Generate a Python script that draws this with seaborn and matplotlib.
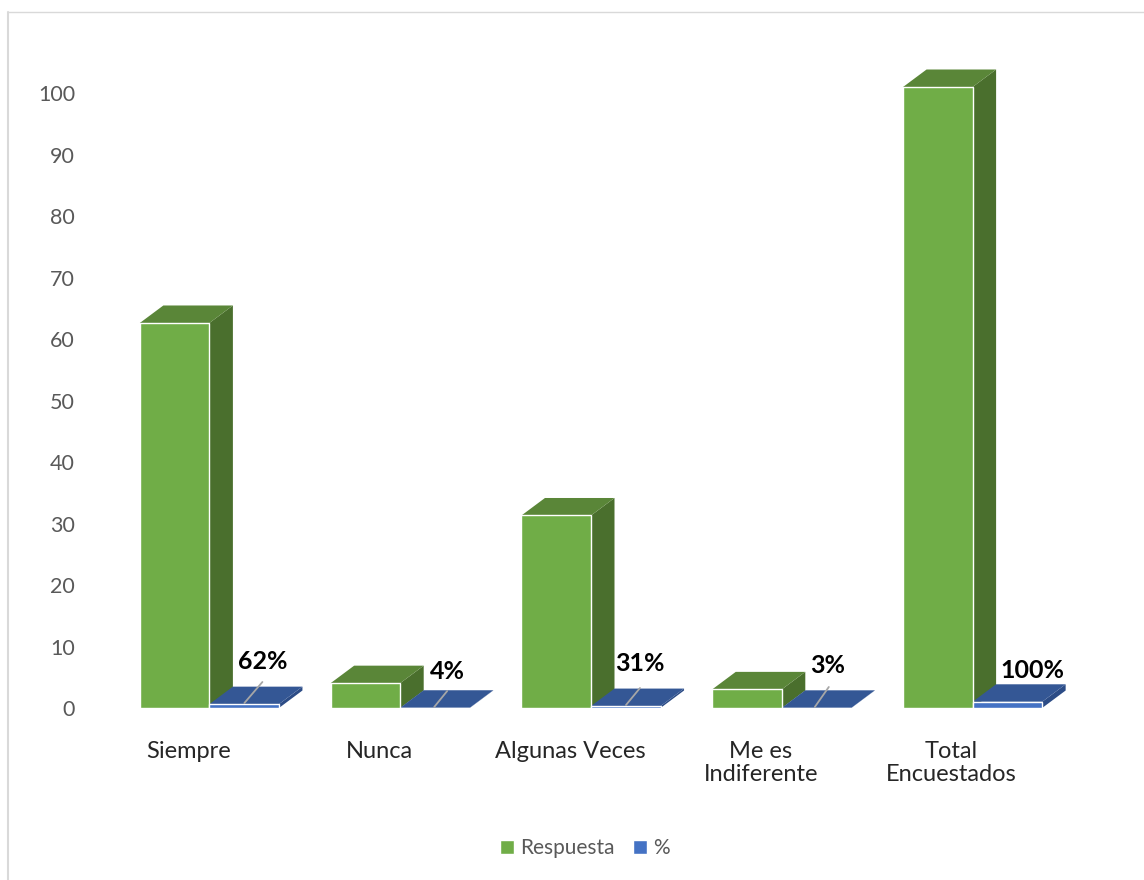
import matplotlib
matplotlib.use("Agg")
import matplotlib.pyplot as plt
from matplotlib.lines import Line2D
from matplotlib.patches import Polygon
import pandas as pd
import seaborn as sns

categories = ["Siempre", "Nunca", "Algunas Veces", "Me es\nIndiferente", "Total\nEncuestados"]
respuesta = [62, 4, 31, 3, 100]
porcentaje = [0.62, 0.04, 0.31, 0.03, 1.0]
y_ticks = list(range(0, 101, 10))

W, H = 1144, 880
sns.set_theme(style="white")
plt.rcParams["font.family"] = ["Lato", "DejaVu Sans"]

df = pd.DataFrame({
    "cat": categories * 2,
    "val": respuesta + porcentaje,
    "serie": ["Respuesta"] * 5 + ["%"] * 5,
})

fig = plt.figure(figsize=(W / 100, H / 100), dpi=100, facecolor="white")
L, R, T, B = 114, 1068, 60, 708
ax = fig.add_axes([L / W, 1 - B / H, (R - L) / W, (B - T) / H])
COL = {"Respuesta": "#70AD47", "%": "#4472C4"}
sns.barplot(data=df, x="cat", y="val", hue="serie", palette=COL, width=0.729, gap=0,
            saturation=1, ax=ax, legend=True, zorder=3)
ax.set_xlim(-0.5, 4.5)
ax.set_ylim(0, (B - T) / 6.21)
ax.set_xlabel("")
ax.set_ylabel("")
ax.set_yticks([])
for s in ax.spines.values():
    s.set_visible(False)
ax.patch.set_alpha(0)

fig.canvas.draw()
px_x = (R - L) / 5.0
px_y = 6.21
dx, dy = 23.5 / px_x, 17.5 / px_y


def box3d(bar, side, top):
    x0, x1 = bar.get_x(), bar.get_x() + bar.get_width()
    h = bar.get_height()
    ax.add_patch(Polygon([(x1, 0), (x1 + dx, dy), (x1 + dx, h + dy), (x1, h)],
                         closed=True, fc=side, ec="none", zorder=2, clip_on=False))
    ax.add_patch(Polygon([(x0, h), (x0 + dx, h + dy), (x1 + dx, h + dy), (x1, h)],
                         closed=True, fc=top, ec="none", zorder=2, clip_on=False))


for b in ax.containers[0]:
    box3d(b, "#4A6F2D", "#5A8638")
for b in ax.containers[1]:
    box3d(b, "#2C4C86", "#345795")

# value labels and leader lines, offsets in pixels from the blue bar's front-left corner
label_off = [(53, 47), (47, 37), (49, 45), (46, 43), (60, 38)]
leaders = [((35, 5), (53, 26)), ((34, 1), (47, 17)), ((35, 3), (49, 20)), ((33, 1), (47, 21)), None]
for b, p, off, ld in zip(ax.containers[1], porcentaje, label_off, leaders):
    xy = (b.get_x(), 0)
    ax.annotate(f"{p:.0%}", xy=xy, xytext=off, textcoords="offset pixels",
                ha="center", va="center", fontsize=18, fontweight="bold",
                color="black", zorder=6, annotation_clip=False)
    if ld:
        ax.annotate("", xy=xy, xycoords="data", annotation_clip=False)
        x_a = b.get_x() + ld[0][0] / px_x
        y_a = ld[0][1] / px_y
        x_b = b.get_x() + ld[1][0] / px_x
        y_b = ld[1][1] / px_y
        ax.plot([x_a, x_b], [y_a, y_b], color="#A6A6A6", lw=1.3, zorder=5, clip_on=False)
ax.set_xlim(-0.5, 4.5)
ax.set_ylim(0, (B - T) / 6.21)

# category labels
ax.set_xticks(range(5))
ax.set_xticklabels(categories, fontsize=17, color="#262626", linespacing=1.1)
ax.tick_params(axis="x", length=0, pad=24)
from matplotlib.transforms import ScaledTranslation
shift = ScaledTranslation(-21 / 100, 0, fig.dpi_scale_trans)
for lab in ax.get_xticklabels():
    lab.set_transform(lab.get_transform() + shift)

# value axis
ax2 = ax.twinx()
ax2.set_ylim((708 - 721) / -6.27, (721 - T) / 6.27)
ax2.yaxis.tick_left()
ax2.set_yticks(y_ticks)
ax2.tick_params(axis="y", length=0, pad=28, labelsize=15.5, labelcolor="#595959")
for s in ax2.spines.values():
    s.set_visible(False)
ax2.patch.set_alpha(0)

# legend
h, l = ax.get_legend_handles_labels()
ax.get_legend().remove()
fig.legend(h, l, loc="center", bbox_to_anchor=(585 / W, 1 - 848 / H), ncol=2, frameon=False,
           fontsize=15, handlelength=0.67, handleheight=0.67, handletextpad=0.3,
           columnspacing=0.85, labelcolor="#595959", borderpad=0)

# frame of the chart area
fig.add_artist(Line2D([8 / W, 8 / W], [0, 1 - 12 / H], color="#D9D9D9", lw=1.5))
fig.add_artist(Line2D([8 / W, 1], [1 - 12 / H, 1 - 12 / H], color="#D9D9D9", lw=1.0))

fig.savefig("out.png", dpi=100, facecolor="white")
